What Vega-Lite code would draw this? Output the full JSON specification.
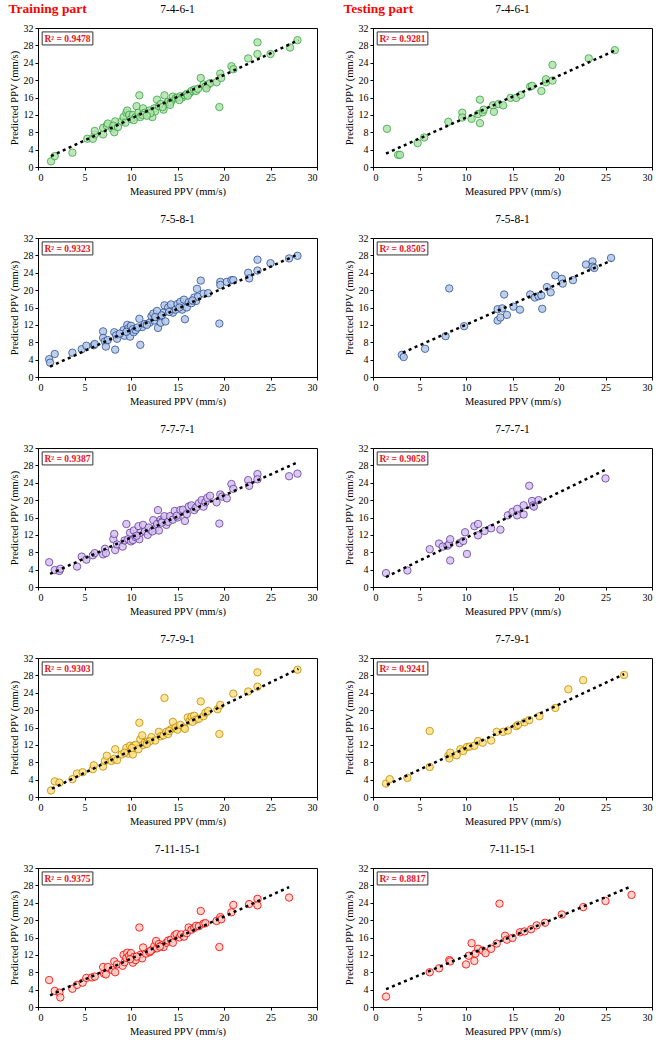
{
  "$schema": "https://vega.github.io/schema/vega-lite/v6.json",
  "padding": {"left": 8, "top": 1, "right": 2, "bottom": 2},
  "spacing": 25,
  "datasets": {
    "train": [
      {"m":"7-4-6-1","k":"r","t":"R² = 0.9478"},
      {"m":"7-4-6-1","k":"f","x":1.4,"y":2.5},{"m":"7-4-6-1","k":"f","x":28,"y":29.2},
      {"m":"7-4-6-1","k":"p","x":1.4,"y":1.3},{"m":"7-4-6-1","k":"p","x":1.8,"y":2.5},{"m":"7-4-6-1","k":"p","x":3.7,"y":3.3},{"m":"7-4-6-1","k":"p","x":5.3,"y":6.5},{"m":"7-4-6-1","k":"p","x":5.9,"y":6.5},{"m":"7-4-6-1","k":"p","x":6.1,"y":7.5},{"m":"7-4-6-1","k":"p","x":6.1,"y":8.3},{"m":"7-4-6-1","k":"p","x":7,"y":7.5},{"m":"7-4-6-1","k":"p","x":7,"y":9},{"m":"7-4-6-1","k":"p","x":7.4,"y":9.5},{"m":"7-4-6-1","k":"p","x":7.5,"y":10},{"m":"7-4-6-1","k":"p","x":8,"y":8.8},{"m":"7-4-6-1","k":"p","x":8.2,"y":8},{"m":"7-4-6-1","k":"p","x":8.3,"y":10.5},{"m":"7-4-6-1","k":"p","x":8.1,"y":9.5},{"m":"7-4-6-1","k":"p","x":9,"y":10.5},{"m":"7-4-6-1","k":"p","x":9.2,"y":11.5},{"m":"7-4-6-1","k":"p","x":9.5,"y":12.5},{"m":"7-4-6-1","k":"p","x":9.6,"y":13},{"m":"7-4-6-1","k":"p","x":9.8,"y":12},{"m":"7-4-6-1","k":"p","x":10,"y":11},{"m":"7-4-6-1","k":"p","x":10.2,"y":12},{"m":"7-4-6-1","k":"p","x":10.5,"y":11.5},{"m":"7-4-6-1","k":"p","x":10.6,"y":14},{"m":"7-4-6-1","k":"p","x":10.8,"y":12.5},{"m":"7-4-6-1","k":"p","x":10.9,"y":16.5},{"m":"7-4-6-1","k":"p","x":11,"y":11.5},{"m":"7-4-6-1","k":"p","x":11.3,"y":13.5},{"m":"7-4-6-1","k":"p","x":11.5,"y":12.5},{"m":"7-4-6-1","k":"p","x":11.8,"y":12.3},{"m":"7-4-6-1","k":"p","x":12,"y":13},{"m":"7-4-6-1","k":"p","x":12.3,"y":11.5},{"m":"7-4-6-1","k":"p","x":12.5,"y":13.5},{"m":"7-4-6-1","k":"p","x":12.8,"y":15.5},{"m":"7-4-6-1","k":"p","x":12.6,"y":12.8},{"m":"7-4-6-1","k":"p","x":13,"y":14},{"m":"7-4-6-1","k":"p","x":13.2,"y":14.5},{"m":"7-4-6-1","k":"p","x":13.5,"y":13.2},{"m":"7-4-6-1","k":"p","x":13.6,"y":16.5},{"m":"7-4-6-1","k":"p","x":13.8,"y":14.5},{"m":"7-4-6-1","k":"p","x":14,"y":15},{"m":"7-4-6-1","k":"p","x":14.3,"y":15},{"m":"7-4-6-1","k":"p","x":14.5,"y":16.2},{"m":"7-4-6-1","k":"p","x":14.8,"y":15.8},{"m":"7-4-6-1","k":"p","x":15,"y":16},{"m":"7-4-6-1","k":"p","x":15.3,"y":16.3},{"m":"7-4-6-1","k":"p","x":15.5,"y":16},{"m":"7-4-6-1","k":"p","x":15.8,"y":16.5},{"m":"7-4-6-1","k":"p","x":16,"y":16.8},{"m":"7-4-6-1","k":"p","x":16.3,"y":17},{"m":"7-4-6-1","k":"p","x":16.5,"y":17.5},{"m":"7-4-6-1","k":"p","x":16.8,"y":17.8},{"m":"7-4-6-1","k":"p","x":17,"y":17.5},{"m":"7-4-6-1","k":"p","x":17.2,"y":18},{"m":"7-4-6-1","k":"p","x":17.5,"y":20.5},{"m":"7-4-6-1","k":"p","x":17.8,"y":19},{"m":"7-4-6-1","k":"p","x":18,"y":18.5},{"m":"7-4-6-1","k":"p","x":18.3,"y":19},{"m":"7-4-6-1","k":"p","x":18.5,"y":19.3},{"m":"7-4-6-1","k":"p","x":19.2,"y":19.5},{"m":"7-4-6-1","k":"p","x":19.5,"y":13.8},{"m":"7-4-6-1","k":"p","x":19.6,"y":21.5},{"m":"7-4-6-1","k":"p","x":19.7,"y":20.5},{"m":"7-4-6-1","k":"p","x":20.8,"y":23.2},{"m":"7-4-6-1","k":"p","x":21,"y":22.5},{"m":"7-4-6-1","k":"p","x":22.6,"y":25},{"m":"7-4-6-1","k":"p","x":23.6,"y":28.7},{"m":"7-4-6-1","k":"p","x":23.6,"y":26},{"m":"7-4-6-1","k":"p","x":25,"y":26},{"m":"7-4-6-1","k":"p","x":27.1,"y":27.5},{"m":"7-4-6-1","k":"p","x":27.9,"y":29.2},{"m":"7-4-6-1","k":"p","x":10.3,"y":10.8},{"m":"7-4-6-1","k":"p","x":11.2,"y":12},{"m":"7-4-6-1","k":"p","x":9.4,"y":10.2},{"m":"7-4-6-1","k":"p","x":12.1,"y":12.4},{"m":"7-4-6-1","k":"p","x":14.2,"y":14.3},{"m":"7-4-6-1","k":"p","x":15.2,"y":15.4},{"m":"7-4-6-1","k":"p","x":16.1,"y":16.4},{"m":"7-4-6-1","k":"p","x":8.6,"y":9.2},{"m":"7-4-6-1","k":"p","x":18.1,"y":18.1},{"m":"7-4-6-1","k":"p","x":13.4,"y":13.8},{"m":"7-4-6-1","k":"p","x":11.7,"y":11.8},

      {"m":"7-5-8-1","k":"r","t":"R² = 0.9323"},
      {"m":"7-5-8-1","k":"f","x":1.3,"y":2.4},{"m":"7-5-8-1","k":"f","x":28,"y":28.3},
      {"m":"7-5-8-1","k":"p","x":1.2,"y":4.1},{"m":"7-5-8-1","k":"p","x":1.3,"y":3.3},{"m":"7-5-8-1","k":"p","x":1.8,"y":5.3},{"m":"7-5-8-1","k":"p","x":3.7,"y":5.6},{"m":"7-5-8-1","k":"p","x":4.7,"y":6.4},{"m":"7-5-8-1","k":"p","x":5.2,"y":7.2},{"m":"7-5-8-1","k":"p","x":6,"y":7.3},{"m":"7-5-8-1","k":"p","x":6.1,"y":7.6},{"m":"7-5-8-1","k":"p","x":7,"y":10.5},{"m":"7-5-8-1","k":"p","x":7,"y":9},{"m":"7-5-8-1","k":"p","x":7.2,"y":8.2},{"m":"7-5-8-1","k":"p","x":7.3,"y":7},{"m":"7-5-8-1","k":"p","x":7.5,"y":8.5},{"m":"7-5-8-1","k":"p","x":8.2,"y":10.3},{"m":"7-5-8-1","k":"p","x":8.3,"y":6.3},{"m":"7-5-8-1","k":"p","x":8.4,"y":9.6},{"m":"7-5-8-1","k":"p","x":8.5,"y":8.8},{"m":"7-5-8-1","k":"p","x":9.2,"y":10.8},{"m":"7-5-8-1","k":"p","x":9.3,"y":9.5},{"m":"7-5-8-1","k":"p","x":9.6,"y":12},{"m":"7-5-8-1","k":"p","x":9.7,"y":11.2},{"m":"7-5-8-1","k":"p","x":9.9,"y":9.3},{"m":"7-5-8-1","k":"p","x":10,"y":11.8},{"m":"7-5-8-1","k":"p","x":10.2,"y":11},{"m":"7-5-8-1","k":"p","x":10.3,"y":10.3},{"m":"7-5-8-1","k":"p","x":10.5,"y":10.8},{"m":"7-5-8-1","k":"p","x":10.9,"y":13.4},{"m":"7-5-8-1","k":"p","x":11,"y":7.4},{"m":"7-5-8-1","k":"p","x":11.2,"y":11.5},{"m":"7-5-8-1","k":"p","x":11.5,"y":12.2},{"m":"7-5-8-1","k":"p","x":12,"y":12.5},{"m":"7-5-8-1","k":"p","x":12.2,"y":14},{"m":"7-5-8-1","k":"p","x":12.4,"y":14.6},{"m":"7-5-8-1","k":"p","x":12.5,"y":13},{"m":"7-5-8-1","k":"p","x":12.8,"y":15.2},{"m":"7-5-8-1","k":"p","x":12.9,"y":11.3},{"m":"7-5-8-1","k":"p","x":13,"y":13.7},{"m":"7-5-8-1","k":"p","x":13.2,"y":12.5},{"m":"7-5-8-1","k":"p","x":13.5,"y":14.8},{"m":"7-5-8-1","k":"p","x":13.6,"y":16.5},{"m":"7-5-8-1","k":"p","x":13.7,"y":12.8},{"m":"7-5-8-1","k":"p","x":14,"y":16},{"m":"7-5-8-1","k":"p","x":14.3,"y":16.7},{"m":"7-5-8-1","k":"p","x":14.5,"y":14.8},{"m":"7-5-8-1","k":"p","x":14.8,"y":15.5},{"m":"7-5-8-1","k":"p","x":15,"y":16.8},{"m":"7-5-8-1","k":"p","x":15.3,"y":17.3},{"m":"7-5-8-1","k":"p","x":15.5,"y":15.5},{"m":"7-5-8-1","k":"p","x":15.7,"y":17.8},{"m":"7-5-8-1","k":"p","x":15.8,"y":13.3},{"m":"7-5-8-1","k":"p","x":16,"y":16},{"m":"7-5-8-1","k":"p","x":16.2,"y":17.2},{"m":"7-5-8-1","k":"p","x":16.5,"y":17},{"m":"7-5-8-1","k":"p","x":16.8,"y":18.3},{"m":"7-5-8-1","k":"p","x":17,"y":17.5},{"m":"7-5-8-1","k":"p","x":17.1,"y":20.3},{"m":"7-5-8-1","k":"p","x":17.2,"y":18.5},{"m":"7-5-8-1","k":"p","x":17.5,"y":22.2},{"m":"7-5-8-1","k":"p","x":17.8,"y":19.2},{"m":"7-5-8-1","k":"p","x":18.3,"y":19.3},{"m":"7-5-8-1","k":"p","x":19.5,"y":12.3},{"m":"7-5-8-1","k":"p","x":19.6,"y":21.9},{"m":"7-5-8-1","k":"p","x":19.6,"y":21.2},{"m":"7-5-8-1","k":"p","x":20.3,"y":21.9},{"m":"7-5-8-1","k":"p","x":20.8,"y":22.3},{"m":"7-5-8-1","k":"p","x":21,"y":22.3},{"m":"7-5-8-1","k":"p","x":22.6,"y":24},{"m":"7-5-8-1","k":"p","x":22.7,"y":22.7},{"m":"7-5-8-1","k":"p","x":23.6,"y":27},{"m":"7-5-8-1","k":"p","x":23.6,"y":24.5},{"m":"7-5-8-1","k":"p","x":25,"y":26.2},{"m":"7-5-8-1","k":"p","x":27,"y":27.3},{"m":"7-5-8-1","k":"p","x":27.9,"y":27.9},{"m":"7-5-8-1","k":"p","x":11.7,"y":12},{"m":"7-5-8-1","k":"p","x":12.6,"y":13.8},{"m":"7-5-8-1","k":"p","x":13.3,"y":14.2},{"m":"7-5-8-1","k":"p","x":14.1,"y":15},{"m":"7-5-8-1","k":"p","x":15.2,"y":16},{"m":"7-5-8-1","k":"p","x":16.6,"y":17.6},{"m":"7-5-8-1","k":"p","x":9.5,"y":10.4},{"m":"7-5-8-1","k":"p","x":8.8,"y":10},{"m":"7-5-8-1","k":"p","x":10.7,"y":11.4},

      {"m":"7-7-7-1","k":"r","t":"R² = 0.9387"},
      {"m":"7-7-7-1","k":"f","x":1.3,"y":3.0},{"m":"7-7-7-1","k":"f","x":28,"y":28.8},
      {"m":"7-7-7-1","k":"p","x":1.2,"y":5.7},{"m":"7-7-7-1","k":"p","x":1.8,"y":3.9},{"m":"7-7-7-1","k":"p","x":2.3,"y":3.7},{"m":"7-7-7-1","k":"p","x":2.4,"y":4.2},{"m":"7-7-7-1","k":"p","x":4.2,"y":4.7},{"m":"7-7-7-1","k":"p","x":4.7,"y":7},{"m":"7-7-7-1","k":"p","x":5.2,"y":6.3},{"m":"7-7-7-1","k":"p","x":5.9,"y":7.3},{"m":"7-7-7-1","k":"p","x":6.1,"y":7.8},{"m":"7-7-7-1","k":"p","x":7,"y":7.5},{"m":"7-7-7-1","k":"p","x":7.2,"y":8.8},{"m":"7-7-7-1","k":"p","x":7.3,"y":7.8},{"m":"7-7-7-1","k":"p","x":8.1,"y":11},{"m":"7-7-7-1","k":"p","x":8.2,"y":12.2},{"m":"7-7-7-1","k":"p","x":8.3,"y":8.5},{"m":"7-7-7-1","k":"p","x":8.5,"y":9.8},{"m":"7-7-7-1","k":"p","x":9.1,"y":9.3},{"m":"7-7-7-1","k":"p","x":9.3,"y":10.7},{"m":"7-7-7-1","k":"p","x":9.5,"y":14.5},{"m":"7-7-7-1","k":"p","x":9.7,"y":11},{"m":"7-7-7-1","k":"p","x":9.9,"y":12.5},{"m":"7-7-7-1","k":"p","x":10,"y":10.5},{"m":"7-7-7-1","k":"p","x":10.2,"y":10.8},{"m":"7-7-7-1","k":"p","x":10.3,"y":13},{"m":"7-7-7-1","k":"p","x":10.5,"y":11.5},{"m":"7-7-7-1","k":"p","x":10.8,"y":14},{"m":"7-7-7-1","k":"p","x":10.9,"y":11},{"m":"7-7-7-1","k":"p","x":11,"y":12.5},{"m":"7-7-7-1","k":"p","x":11.3,"y":14.3},{"m":"7-7-7-1","k":"p","x":11.5,"y":12.8},{"m":"7-7-7-1","k":"p","x":11.8,"y":12},{"m":"7-7-7-1","k":"p","x":12.1,"y":13.2},{"m":"7-7-7-1","k":"p","x":12.4,"y":15.4},{"m":"7-7-7-1","k":"p","x":12.6,"y":13.5},{"m":"7-7-7-1","k":"p","x":12.8,"y":14.5},{"m":"7-7-7-1","k":"p","x":12.9,"y":17.7},{"m":"7-7-7-1","k":"p","x":13,"y":13},{"m":"7-7-7-1","k":"p","x":13.2,"y":15.5},{"m":"7-7-7-1","k":"p","x":13.4,"y":15.2},{"m":"7-7-7-1","k":"p","x":13.6,"y":16.3},{"m":"7-7-7-1","k":"p","x":13.8,"y":14.3},{"m":"7-7-7-1","k":"p","x":14,"y":15},{"m":"7-7-7-1","k":"p","x":14.2,"y":16.3},{"m":"7-7-7-1","k":"p","x":14.5,"y":15.5},{"m":"7-7-7-1","k":"p","x":14.7,"y":17.5},{"m":"7-7-7-1","k":"p","x":15,"y":16},{"m":"7-7-7-1","k":"p","x":15.3,"y":17.7},{"m":"7-7-7-1","k":"p","x":15.6,"y":17.8},{"m":"7-7-7-1","k":"p","x":15.8,"y":15.2},{"m":"7-7-7-1","k":"p","x":16,"y":16.8},{"m":"7-7-7-1","k":"p","x":16.2,"y":18.5},{"m":"7-7-7-1","k":"p","x":16.5,"y":18.8},{"m":"7-7-7-1","k":"p","x":16.8,"y":17.7},{"m":"7-7-7-1","k":"p","x":17,"y":18.3},{"m":"7-7-7-1","k":"p","x":17.3,"y":19.3},{"m":"7-7-7-1","k":"p","x":17.6,"y":20},{"m":"7-7-7-1","k":"p","x":17.8,"y":18.5},{"m":"7-7-7-1","k":"p","x":18,"y":19.5},{"m":"7-7-7-1","k":"p","x":18.2,"y":20.5},{"m":"7-7-7-1","k":"p","x":18.5,"y":21},{"m":"7-7-7-1","k":"p","x":19.2,"y":19.5},{"m":"7-7-7-1","k":"p","x":19.5,"y":14.6},{"m":"7-7-7-1","k":"p","x":19.6,"y":21.3},{"m":"7-7-7-1","k":"p","x":19.8,"y":20.8},{"m":"7-7-7-1","k":"p","x":20.3,"y":20.4},{"m":"7-7-7-1","k":"p","x":20.8,"y":23.7},{"m":"7-7-7-1","k":"p","x":21,"y":22.6},{"m":"7-7-7-1","k":"p","x":22.6,"y":24.6},{"m":"7-7-7-1","k":"p","x":22.7,"y":23.3},{"m":"7-7-7-1","k":"p","x":23.6,"y":26},{"m":"7-7-7-1","k":"p","x":23.6,"y":24.8},{"m":"7-7-7-1","k":"p","x":27,"y":25.5},{"m":"7-7-7-1","k":"p","x":27.9,"y":26.1},{"m":"7-7-7-1","k":"p","x":10.6,"y":11.8},{"m":"7-7-7-1","k":"p","x":11.9,"y":13.7},{"m":"7-7-7-1","k":"p","x":13.3,"y":14.8},{"m":"7-7-7-1","k":"p","x":12.3,"y":12.8},{"m":"7-7-7-1","k":"p","x":14.9,"y":16.4},

      {"m":"7-7-9-1","k":"r","t":"R² = 0.9303"},
      {"m":"7-7-9-1","k":"f","x":1.5,"y":1.9},{"m":"7-7-9-1","k":"f","x":28,"y":29.5},
      {"m":"7-7-9-1","k":"p","x":1.4,"y":1.5},{"m":"7-7-9-1","k":"p","x":1.8,"y":3.6},{"m":"7-7-9-1","k":"p","x":2.3,"y":3.3},{"m":"7-7-9-1","k":"p","x":3.7,"y":4.1},{"m":"7-7-9-1","k":"p","x":4.2,"y":5.4},{"m":"7-7-9-1","k":"p","x":4.8,"y":5.7},{"m":"7-7-9-1","k":"p","x":5.9,"y":6.4},{"m":"7-7-9-1","k":"p","x":6,"y":7.3},{"m":"7-7-9-1","k":"p","x":7,"y":7},{"m":"7-7-9-1","k":"p","x":7.2,"y":8.3},{"m":"7-7-9-1","k":"p","x":7.4,"y":9.5},{"m":"7-7-9-1","k":"p","x":7.9,"y":8.3},{"m":"7-7-9-1","k":"p","x":8.2,"y":8.8},{"m":"7-7-9-1","k":"p","x":8.3,"y":11},{"m":"7-7-9-1","k":"p","x":8.5,"y":8.5},{"m":"7-7-9-1","k":"p","x":9,"y":9.8},{"m":"7-7-9-1","k":"p","x":9.5,"y":11.3},{"m":"7-7-9-1","k":"p","x":9.7,"y":10},{"m":"7-7-9-1","k":"p","x":9.9,"y":11.8},{"m":"7-7-9-1","k":"p","x":10,"y":10.5},{"m":"7-7-9-1","k":"p","x":10.2,"y":9.8},{"m":"7-7-9-1","k":"p","x":10.3,"y":11.8},{"m":"7-7-9-1","k":"p","x":10.5,"y":12},{"m":"7-7-9-1","k":"p","x":10.8,"y":11},{"m":"7-7-9-1","k":"p","x":10.9,"y":17.1},{"m":"7-7-9-1","k":"p","x":11,"y":13.3},{"m":"7-7-9-1","k":"p","x":11.2,"y":14.2},{"m":"7-7-9-1","k":"p","x":11.3,"y":12},{"m":"7-7-9-1","k":"p","x":11.5,"y":12.5},{"m":"7-7-9-1","k":"p","x":11.8,"y":12.8},{"m":"7-7-9-1","k":"p","x":12.2,"y":13.8},{"m":"7-7-9-1","k":"p","x":12.6,"y":13},{"m":"7-7-9-1","k":"p","x":13,"y":15},{"m":"7-7-9-1","k":"p","x":13.2,"y":14},{"m":"7-7-9-1","k":"p","x":13.5,"y":14.2},{"m":"7-7-9-1","k":"p","x":13.6,"y":22.8},{"m":"7-7-9-1","k":"p","x":13.8,"y":15},{"m":"7-7-9-1","k":"p","x":14,"y":14.5},{"m":"7-7-9-1","k":"p","x":14.3,"y":15.6},{"m":"7-7-9-1","k":"p","x":14.5,"y":17.3},{"m":"7-7-9-1","k":"p","x":14.8,"y":16},{"m":"7-7-9-1","k":"p","x":15,"y":15.5},{"m":"7-7-9-1","k":"p","x":15.3,"y":16.6},{"m":"7-7-9-1","k":"p","x":15.7,"y":16},{"m":"7-7-9-1","k":"p","x":15.8,"y":15.7},{"m":"7-7-9-1","k":"p","x":16.1,"y":18.3},{"m":"7-7-9-1","k":"p","x":16.3,"y":17.5},{"m":"7-7-9-1","k":"p","x":16.5,"y":18.5},{"m":"7-7-9-1","k":"p","x":16.8,"y":18.7},{"m":"7-7-9-1","k":"p","x":17,"y":17.8},{"m":"7-7-9-1","k":"p","x":17.3,"y":18},{"m":"7-7-9-1","k":"p","x":17.5,"y":22},{"m":"7-7-9-1","k":"p","x":17.8,"y":18.6},{"m":"7-7-9-1","k":"p","x":18,"y":19.4},{"m":"7-7-9-1","k":"p","x":18.3,"y":19.8},{"m":"7-7-9-1","k":"p","x":19.3,"y":20.2},{"m":"7-7-9-1","k":"p","x":19.5,"y":14.5},{"m":"7-7-9-1","k":"p","x":19.6,"y":21.2},{"m":"7-7-9-1","k":"p","x":21,"y":23.8},{"m":"7-7-9-1","k":"p","x":22.6,"y":24.3},{"m":"7-7-9-1","k":"p","x":23.6,"y":28.7},{"m":"7-7-9-1","k":"p","x":23.6,"y":25.4},{"m":"7-7-9-1","k":"p","x":27.9,"y":29.3},{"m":"7-7-9-1","k":"p","x":10.1,"y":11.3},{"m":"7-7-9-1","k":"p","x":12,"y":12.8},{"m":"7-7-9-1","k":"p","x":14.1,"y":15.2},{"m":"7-7-9-1","k":"p","x":9.3,"y":10.2},{"m":"7-7-9-1","k":"p","x":16.6,"y":17.3},{"m":"7-7-9-1","k":"p","x":11.7,"y":12.2},

      {"m":"7-11-15-1","k":"r","t":"R² = 0.9375"},
      {"m":"7-11-15-1","k":"f","x":1.3,"y":2.7},{"m":"7-11-15-1","k":"f","x":27,"y":27.6},
      {"m":"7-11-15-1","k":"p","x":1.2,"y":6.2},{"m":"7-11-15-1","k":"p","x":1.8,"y":3.7},{"m":"7-11-15-1","k":"p","x":2.3,"y":3.3},{"m":"7-11-15-1","k":"p","x":2.4,"y":2.2},{"m":"7-11-15-1","k":"p","x":3.7,"y":4.2},{"m":"7-11-15-1","k":"p","x":4.2,"y":5.1},{"m":"7-11-15-1","k":"p","x":4.8,"y":5.6},{"m":"7-11-15-1","k":"p","x":5.2,"y":6.7},{"m":"7-11-15-1","k":"p","x":5.8,"y":6.8},{"m":"7-11-15-1","k":"p","x":6.1,"y":7},{"m":"7-11-15-1","k":"p","x":7,"y":9.2},{"m":"7-11-15-1","k":"p","x":7.1,"y":7.7},{"m":"7-11-15-1","k":"p","x":7.3,"y":7.5},{"m":"7-11-15-1","k":"p","x":7.5,"y":9.2},{"m":"7-11-15-1","k":"p","x":8,"y":8.5},{"m":"7-11-15-1","k":"p","x":8.2,"y":10.5},{"m":"7-11-15-1","k":"p","x":8.3,"y":8},{"m":"7-11-15-1","k":"p","x":8.5,"y":9.8},{"m":"7-11-15-1","k":"p","x":9.1,"y":9.5},{"m":"7-11-15-1","k":"p","x":9.2,"y":12},{"m":"7-11-15-1","k":"p","x":9.3,"y":10.3},{"m":"7-11-15-1","k":"p","x":9.5,"y":11.3},{"m":"7-11-15-1","k":"p","x":9.6,"y":12.5},{"m":"7-11-15-1","k":"p","x":9.8,"y":11.8},{"m":"7-11-15-1","k":"p","x":10,"y":12.4},{"m":"7-11-15-1","k":"p","x":10.2,"y":10.2},{"m":"7-11-15-1","k":"p","x":10.3,"y":11.5},{"m":"7-11-15-1","k":"p","x":10.5,"y":10.8},{"m":"7-11-15-1","k":"p","x":10.9,"y":18.3},{"m":"7-11-15-1","k":"p","x":11,"y":12},{"m":"7-11-15-1","k":"p","x":11.2,"y":11.2},{"m":"7-11-15-1","k":"p","x":11.3,"y":13.7},{"m":"7-11-15-1","k":"p","x":11.6,"y":12.3},{"m":"7-11-15-1","k":"p","x":12,"y":12.6},{"m":"7-11-15-1","k":"p","x":12.3,"y":13.2},{"m":"7-11-15-1","k":"p","x":12.5,"y":14},{"m":"7-11-15-1","k":"p","x":12.7,"y":15.2},{"m":"7-11-15-1","k":"p","x":12.8,"y":13.5},{"m":"7-11-15-1","k":"p","x":13,"y":14.5},{"m":"7-11-15-1","k":"p","x":13.3,"y":14.2},{"m":"7-11-15-1","k":"p","x":13.5,"y":13.8},{"m":"7-11-15-1","k":"p","x":13.8,"y":14.8},{"m":"7-11-15-1","k":"p","x":14,"y":15.3},{"m":"7-11-15-1","k":"p","x":14.3,"y":15.5},{"m":"7-11-15-1","k":"p","x":14.5,"y":14.8},{"m":"7-11-15-1","k":"p","x":14.7,"y":16.5},{"m":"7-11-15-1","k":"p","x":14.9,"y":16.8},{"m":"7-11-15-1","k":"p","x":15.2,"y":16},{"m":"7-11-15-1","k":"p","x":15.4,"y":16.7},{"m":"7-11-15-1","k":"p","x":15.7,"y":16.2},{"m":"7-11-15-1","k":"p","x":16,"y":17},{"m":"7-11-15-1","k":"p","x":16.2,"y":18.3},{"m":"7-11-15-1","k":"p","x":16.5,"y":17.8},{"m":"7-11-15-1","k":"p","x":16.8,"y":18.2},{"m":"7-11-15-1","k":"p","x":17,"y":18.7},{"m":"7-11-15-1","k":"p","x":17.3,"y":18.6},{"m":"7-11-15-1","k":"p","x":17.5,"y":22.1},{"m":"7-11-15-1","k":"p","x":17.8,"y":19.2},{"m":"7-11-15-1","k":"p","x":18,"y":19.3},{"m":"7-11-15-1","k":"p","x":19.2,"y":19.8},{"m":"7-11-15-1","k":"p","x":19.5,"y":13.8},{"m":"7-11-15-1","k":"p","x":19.6,"y":20.7},{"m":"7-11-15-1","k":"p","x":19.7,"y":20.2},{"m":"7-11-15-1","k":"p","x":20.8,"y":21.8},{"m":"7-11-15-1","k":"p","x":21,"y":23.5},{"m":"7-11-15-1","k":"p","x":22.7,"y":23.7},{"m":"7-11-15-1","k":"p","x":23.6,"y":24.9},{"m":"7-11-15-1","k":"p","x":23.6,"y":23.4},{"m":"7-11-15-1","k":"p","x":27,"y":25.2},{"m":"7-11-15-1","k":"p","x":10.6,"y":11.6},{"m":"7-11-15-1","k":"p","x":12.1,"y":12.9},{"m":"7-11-15-1","k":"p","x":9.9,"y":11},{"m":"7-11-15-1","k":"p","x":13.1,"y":13.9}
    ],
    "test": [
      {"m":"7-4-6-1","k":"r","t":"R² = 0.9281"},
      {"m":"7-4-6-1","k":"f","x":1.4,"y":3.1},{"m":"7-4-6-1","k":"f","x":26,"y":26.8},
      {"m":"7-4-6-1","k":"p","x":1.5,"y":8.8},{"m":"7-4-6-1","k":"p","x":2.7,"y":2.8},{"m":"7-4-6-1","k":"p","x":2.9,"y":2.8},{"m":"7-4-6-1","k":"p","x":4.8,"y":5.5},{"m":"7-4-6-1","k":"p","x":5.5,"y":6.8},{"m":"7-4-6-1","k":"p","x":8.1,"y":10.4},{"m":"7-4-6-1","k":"p","x":9.6,"y":12.5},{"m":"7-4-6-1","k":"p","x":9.6,"y":11.4},{"m":"7-4-6-1","k":"p","x":10.6,"y":11.1},{"m":"7-4-6-1","k":"p","x":11.3,"y":12.2},{"m":"7-4-6-1","k":"p","x":11.5,"y":15.5},{"m":"7-4-6-1","k":"p","x":11.5,"y":10.1},{"m":"7-4-6-1","k":"p","x":11.8,"y":12.6},{"m":"7-4-6-1","k":"p","x":11.9,"y":13.2},{"m":"7-4-6-1","k":"p","x":12.9,"y":14.2},{"m":"7-4-6-1","k":"p","x":13,"y":12.7},{"m":"7-4-6-1","k":"p","x":13.5,"y":14.5},{"m":"7-4-6-1","k":"p","x":14,"y":14.2},{"m":"7-4-6-1","k":"p","x":14.8,"y":15.9},{"m":"7-4-6-1","k":"p","x":15.4,"y":15.9},{"m":"7-4-6-1","k":"p","x":15.9,"y":16.6},{"m":"7-4-6-1","k":"p","x":16.9,"y":18.5},{"m":"7-4-6-1","k":"p","x":17.1,"y":18.7},{"m":"7-4-6-1","k":"p","x":18.1,"y":17.5},{"m":"7-4-6-1","k":"p","x":18.6,"y":19.5},{"m":"7-4-6-1","k":"p","x":18.6,"y":20.2},{"m":"7-4-6-1","k":"p","x":19.3,"y":23.5},{"m":"7-4-6-1","k":"p","x":19.3,"y":19.9},{"m":"7-4-6-1","k":"p","x":23.2,"y":25},{"m":"7-4-6-1","k":"p","x":26,"y":26.9},

      {"m":"7-5-8-1","k":"r","t":"R² = 0.8505"},
      {"m":"7-5-8-1","k":"f","x":3.2,"y":5.6},{"m":"7-5-8-1","k":"f","x":25.6,"y":26.8},
      {"m":"7-5-8-1","k":"p","x":3.1,"y":5.1},{"m":"7-5-8-1","k":"p","x":3.3,"y":4.6},{"m":"7-5-8-1","k":"p","x":5.6,"y":6.5},{"m":"7-5-8-1","k":"p","x":7.8,"y":9.4},{"m":"7-5-8-1","k":"p","x":8.2,"y":20.4},{"m":"7-5-8-1","k":"p","x":9.8,"y":11.7},{"m":"7-5-8-1","k":"p","x":13.4,"y":13},{"m":"7-5-8-1","k":"p","x":13.4,"y":15.6},{"m":"7-5-8-1","k":"p","x":13.7,"y":13.7},{"m":"7-5-8-1","k":"p","x":13.9,"y":15.8},{"m":"7-5-8-1","k":"p","x":14.1,"y":19},{"m":"7-5-8-1","k":"p","x":14.4,"y":14.3},{"m":"7-5-8-1","k":"p","x":15.1,"y":16.2},{"m":"7-5-8-1","k":"p","x":15.8,"y":15.5},{"m":"7-5-8-1","k":"p","x":16.9,"y":19},{"m":"7-5-8-1","k":"p","x":17.4,"y":18.3},{"m":"7-5-8-1","k":"p","x":17.8,"y":18.6},{"m":"7-5-8-1","k":"p","x":18.1,"y":18.8},{"m":"7-5-8-1","k":"p","x":18.2,"y":15.7},{"m":"7-5-8-1","k":"p","x":18.7,"y":20.7},{"m":"7-5-8-1","k":"p","x":19.1,"y":19.5},{"m":"7-5-8-1","k":"p","x":19.6,"y":23.4},{"m":"7-5-8-1","k":"p","x":20.3,"y":22.6},{"m":"7-5-8-1","k":"p","x":20.4,"y":21.5},{"m":"7-5-8-1","k":"p","x":21.5,"y":22.3},{"m":"7-5-8-1","k":"p","x":22.9,"y":25.9},{"m":"7-5-8-1","k":"p","x":23.6,"y":26.6},{"m":"7-5-8-1","k":"p","x":23.6,"y":25.4},{"m":"7-5-8-1","k":"p","x":23.8,"y":25.1},{"m":"7-5-8-1","k":"p","x":25.6,"y":27.4},

      {"m":"7-7-7-1","k":"r","t":"R² = 0.9058"},
      {"m":"7-7-7-1","k":"f","x":1.4,"y":2.3},{"m":"7-7-7-1","k":"f","x":25,"y":27},
      {"m":"7-7-7-1","k":"p","x":1.4,"y":3.2},{"m":"7-7-7-1","k":"p","x":3.7,"y":3.8},{"m":"7-7-7-1","k":"p","x":6.1,"y":8.7},{"m":"7-7-7-1","k":"p","x":7.1,"y":10},{"m":"7-7-7-1","k":"p","x":7.5,"y":9.3},{"m":"7-7-7-1","k":"p","x":8,"y":9.5},{"m":"7-7-7-1","k":"p","x":8.2,"y":9.9},{"m":"7-7-7-1","k":"p","x":8.3,"y":11},{"m":"7-7-7-1","k":"p","x":8.3,"y":6.1},{"m":"7-7-7-1","k":"p","x":9.3,"y":10.1},{"m":"7-7-7-1","k":"p","x":9.7,"y":10.6},{"m":"7-7-7-1","k":"p","x":9.9,"y":12.6},{"m":"7-7-7-1","k":"p","x":10.1,"y":7.6},{"m":"7-7-7-1","k":"p","x":10.9,"y":14},{"m":"7-7-7-1","k":"p","x":11.3,"y":14.5},{"m":"7-7-7-1","k":"p","x":11.3,"y":11.9},{"m":"7-7-7-1","k":"p","x":12,"y":12.9},{"m":"7-7-7-1","k":"p","x":12.7,"y":13.5},{"m":"7-7-7-1","k":"p","x":13.7,"y":13.2},{"m":"7-7-7-1","k":"p","x":14.5,"y":16.5},{"m":"7-7-7-1","k":"p","x":15,"y":17.3},{"m":"7-7-7-1","k":"p","x":15.5,"y":18},{"m":"7-7-7-1","k":"p","x":15.5,"y":16.5},{"m":"7-7-7-1","k":"p","x":16.2,"y":18.8},{"m":"7-7-7-1","k":"p","x":16.2,"y":16.7},{"m":"7-7-7-1","k":"p","x":16.8,"y":23.3},{"m":"7-7-7-1","k":"p","x":17.1,"y":19.8},{"m":"7-7-7-1","k":"p","x":17.2,"y":18.8},{"m":"7-7-7-1","k":"p","x":17.3,"y":18.5},{"m":"7-7-7-1","k":"p","x":17.8,"y":20},{"m":"7-7-7-1","k":"p","x":25,"y":25},

      {"m":"7-7-9-1","k":"r","t":"R² = 0.9241"},
      {"m":"7-7-9-1","k":"f","x":1.5,"y":2.8},{"m":"7-7-9-1","k":"f","x":27,"y":28.3},
      {"m":"7-7-9-1","k":"p","x":1.4,"y":3.1},{"m":"7-7-9-1","k":"p","x":1.8,"y":4.1},{"m":"7-7-9-1","k":"p","x":3.7,"y":4.4},{"m":"7-7-9-1","k":"p","x":6.1,"y":15.2},{"m":"7-7-9-1","k":"p","x":6.1,"y":6.9},{"m":"7-7-9-1","k":"p","x":8.1,"y":9.5},{"m":"7-7-9-1","k":"p","x":8.2,"y":8.9},{"m":"7-7-9-1","k":"p","x":8.3,"y":10.2},{"m":"7-7-9-1","k":"p","x":9,"y":9.6},{"m":"7-7-9-1","k":"p","x":9.4,"y":11},{"m":"7-7-9-1","k":"p","x":9.7,"y":10.6},{"m":"7-7-9-1","k":"p","x":10.1,"y":11.5},{"m":"7-7-9-1","k":"p","x":10.4,"y":11.6},{"m":"7-7-9-1","k":"p","x":10.9,"y":11.8},{"m":"7-7-9-1","k":"p","x":11.3,"y":12.9},{"m":"7-7-9-1","k":"p","x":11.8,"y":12.5},{"m":"7-7-9-1","k":"p","x":12.7,"y":13},{"m":"7-7-9-1","k":"p","x":13.3,"y":15},{"m":"7-7-9-1","k":"p","x":14,"y":15},{"m":"7-7-9-1","k":"p","x":14.5,"y":15.3},{"m":"7-7-9-1","k":"p","x":15.4,"y":16.3},{"m":"7-7-9-1","k":"p","x":15.6,"y":16.6},{"m":"7-7-9-1","k":"p","x":16.3,"y":17.2},{"m":"7-7-9-1","k":"p","x":16.8,"y":17.7},{"m":"7-7-9-1","k":"p","x":17.9,"y":18.6},{"m":"7-7-9-1","k":"p","x":19.6,"y":20.5},{"m":"7-7-9-1","k":"p","x":21,"y":24.8},{"m":"7-7-9-1","k":"p","x":22.6,"y":26.9},{"m":"7-7-9-1","k":"p","x":27,"y":28.1},

      {"m":"7-11-15-1","k":"r","t":"R² = 0.8817"},
      {"m":"7-11-15-1","k":"f","x":1.4,"y":4.1},{"m":"7-11-15-1","k":"f","x":27.8,"y":27.8},
      {"m":"7-11-15-1","k":"p","x":1.4,"y":2.4},{"m":"7-11-15-1","k":"p","x":6.1,"y":8},{"m":"7-11-15-1","k":"p","x":7.1,"y":8.9},{"m":"7-11-15-1","k":"p","x":8.2,"y":10.8},{"m":"7-11-15-1","k":"p","x":8.3,"y":10.5},{"m":"7-11-15-1","k":"p","x":10,"y":9.8},{"m":"7-11-15-1","k":"p","x":10.3,"y":11.8},{"m":"7-11-15-1","k":"p","x":10.6,"y":14.7},{"m":"7-11-15-1","k":"p","x":10.9,"y":10.6},{"m":"7-11-15-1","k":"p","x":11,"y":12.3},{"m":"7-11-15-1","k":"p","x":11.3,"y":13.4},{"m":"7-11-15-1","k":"p","x":11.8,"y":13},{"m":"7-11-15-1","k":"p","x":12.1,"y":12.4},{"m":"7-11-15-1","k":"p","x":12.7,"y":13.4},{"m":"7-11-15-1","k":"p","x":13.3,"y":14.6},{"m":"7-11-15-1","k":"p","x":13.6,"y":23.8},{"m":"7-11-15-1","k":"p","x":14.2,"y":16.4},{"m":"7-11-15-1","k":"p","x":14.4,"y":15.5},{"m":"7-11-15-1","k":"p","x":15,"y":15.9},{"m":"7-11-15-1","k":"p","x":15.8,"y":17.2},{"m":"7-11-15-1","k":"p","x":16.3,"y":17.4},{"m":"7-11-15-1","k":"p","x":17,"y":17.9},{"m":"7-11-15-1","k":"p","x":17.6,"y":18.8},{"m":"7-11-15-1","k":"p","x":18.5,"y":19.4},{"m":"7-11-15-1","k":"p","x":20.3,"y":21.3},{"m":"7-11-15-1","k":"p","x":22.6,"y":23},{"m":"7-11-15-1","k":"p","x":25,"y":24.4},{"m":"7-11-15-1","k":"p","x":27.8,"y":25.8}
    ]
  },
  "hconcat": [
    {
      "title": {"text": "Training part", "anchor": "start", "frame": "bounds", "offset": -12},
      "data": {"name": "train"},
      "facet": {
        "field": "m", "type": "nominal",
        "sort": ["7-4-6-1", "7-5-8-1", "7-7-7-1", "7-7-9-1", "7-11-15-1"],
        "header": {"title": null}
      },
      "columns": 1,
      "spacing": 16,
      "resolve": {"axis": {"x": "independent", "y": "independent"}},
      "spec": {
        "width": 279,
        "height": 139,
        "layer": [
          {
            "transform": [{"filter": "datum.k == 'p'"}],
            "mark": {"type": "circle", "size": 55, "strokeWidth": 1, "opacity": 0.85},
            "encoding": {
              "x": {"field": "x", "type": "quantitative", "scale": {"domain": [0, 30], "nice": false}, "axis": {"values": [0, 5, 10, 15, 20, 25, 30], "title": "Measured PPV (mm/s)", "titleFontWeight": "normal", "labelOverlap": false}},
              "y": {"field": "y", "type": "quantitative", "scale": {"domain": [0, 32], "nice": false}, "axis": {"values": [0, 4, 8, 12, 16, 20, 24, 28, 32], "title": "Predicted PPV (mm/s)", "titleFontWeight": "normal", "labelOverlap": false}},
              "fill": {"field": "m", "type": "nominal", "legend": null, "scale": {"domain": ["7-4-6-1", "7-5-8-1", "7-7-7-1", "7-7-9-1", "7-11-15-1"], "range": ["#b3e2ad", "#b4c7e7", "#d5c2f0", "#ffe08a", "#fad0c8"]}},
              "stroke": {"field": "m", "type": "nominal", "legend": null, "scale": {"domain": ["7-4-6-1", "7-5-8-1", "7-7-7-1", "7-7-9-1", "7-11-15-1"], "range": ["#38a845", "#2f5597", "#6a3fa0", "#c09000", "#ff0000"]}}
            }
          },
          {
            "transform": [{"filter": "datum.k == 'f'"}],
            "mark": {"type": "line", "color": "black", "strokeWidth": 2.5, "strokeDash": [3, 3.5]},
            "encoding": {
              "x": {"field": "x", "type": "quantitative", "axis": {"values": [0, 5, 10, 15, 20, 25, 30], "title": "Measured PPV (mm/s)", "titleFontWeight": "normal", "labelOverlap": false}},
              "y": {"field": "y", "type": "quantitative", "axis": {"values": [0, 4, 8, 12, 16, 20, 24, 28, 32], "title": "Predicted PPV (mm/s)", "titleFontWeight": "normal", "labelOverlap": false}}
            }
          },
          {
            "transform": [{"filter": "datum.k == 'r'"}],
            "mark": {"type": "rect", "fill": "white", "stroke": "#333333", "strokeWidth": 1},
            "encoding": {
              "x": {"datum": 0.45, "type": "quantitative", "axis": {"values": [0, 5, 10, 15, 20, 25, 30], "title": "Measured PPV (mm/s)", "titleFontWeight": "normal", "labelOverlap": false}},
              "x2": {"datum": 5.9},
              "y": {"datum": 28.1, "type": "quantitative", "axis": {"values": [0, 4, 8, 12, 16, 20, 24, 28, 32], "title": "Predicted PPV (mm/s)", "titleFontWeight": "normal", "labelOverlap": false}},
              "y2": {"datum": 31.1}
            }
          },
          {
            "transform": [{"filter": "datum.k == 'r'"}],
            "mark": {"type": "text", "color": "#e8141b", "fontWeight": "bold", "fontSize": 9.5},
            "encoding": {
              "x": {"datum": 3.17, "type": "quantitative", "axis": {"values": [0, 5, 10, 15, 20, 25, 30], "title": "Measured PPV (mm/s)", "titleFontWeight": "normal", "labelOverlap": false}},
              "y": {"datum": 29.55, "type": "quantitative", "axis": {"values": [0, 4, 8, 12, 16, 20, 24, 28, 32], "title": "Predicted PPV (mm/s)", "titleFontWeight": "normal", "labelOverlap": false}},
              "text": {"field": "t"}
            }
          }
        ]
      }
    },
    {
      "title": {"text": "Testing part", "anchor": "start", "frame": "bounds", "offset": -12},
      "data": {"name": "test"},
      "facet": {
        "field": "m", "type": "nominal",
        "sort": ["7-4-6-1", "7-5-8-1", "7-7-7-1", "7-7-9-1", "7-11-15-1"],
        "header": {"title": null}
      },
      "columns": 1,
      "spacing": 16,
      "resolve": {"axis": {"x": "independent", "y": "independent"}},
      "spec": {
        "width": 279,
        "height": 139,
        "layer": [
          {
            "transform": [{"filter": "datum.k == 'p'"}],
            "mark": {"type": "circle", "size": 55, "strokeWidth": 1, "opacity": 0.85},
            "encoding": {
              "x": {"field": "x", "type": "quantitative", "scale": {"domain": [0, 30], "nice": false}, "axis": {"values": [0, 5, 10, 15, 20, 25, 30], "title": "Measured PPV (mm/s)", "titleFontWeight": "normal", "labelOverlap": false}},
              "y": {"field": "y", "type": "quantitative", "scale": {"domain": [0, 32], "nice": false}, "axis": {"values": [0, 4, 8, 12, 16, 20, 24, 28, 32], "title": "Predicted PPV (mm/s)", "titleFontWeight": "normal", "labelOverlap": false}},
              "fill": {"field": "m", "type": "nominal", "legend": null, "scale": {"domain": ["7-4-6-1", "7-5-8-1", "7-7-7-1", "7-7-9-1", "7-11-15-1"], "range": ["#b3e2ad", "#b4c7e7", "#d5c2f0", "#ffe08a", "#f8bfb0"]}},
              "stroke": {"field": "m", "type": "nominal", "legend": null, "scale": {"domain": ["7-4-6-1", "7-5-8-1", "7-7-7-1", "7-7-9-1", "7-11-15-1"], "range": ["#38a845", "#2f5597", "#6a3fa0", "#c09000", "#ff0000"]}}
            }
          },
          {
            "transform": [{"filter": "datum.k == 'f'"}],
            "mark": {"type": "line", "color": "black", "strokeWidth": 2.5, "strokeDash": [3, 3.5]},
            "encoding": {
              "x": {"field": "x", "type": "quantitative", "axis": {"values": [0, 5, 10, 15, 20, 25, 30], "title": "Measured PPV (mm/s)", "titleFontWeight": "normal", "labelOverlap": false}},
              "y": {"field": "y", "type": "quantitative", "axis": {"values": [0, 4, 8, 12, 16, 20, 24, 28, 32], "title": "Predicted PPV (mm/s)", "titleFontWeight": "normal", "labelOverlap": false}}
            }
          },
          {
            "transform": [{"filter": "datum.k == 'r'"}],
            "mark": {"type": "rect", "fill": "white", "stroke": "#333333", "strokeWidth": 1},
            "encoding": {
              "x": {"datum": 0.45, "type": "quantitative", "axis": {"values": [0, 5, 10, 15, 20, 25, 30], "title": "Measured PPV (mm/s)", "titleFontWeight": "normal", "labelOverlap": false}},
              "x2": {"datum": 5.9},
              "y": {"datum": 28.1, "type": "quantitative", "axis": {"values": [0, 4, 8, 12, 16, 20, 24, 28, 32], "title": "Predicted PPV (mm/s)", "titleFontWeight": "normal", "labelOverlap": false}},
              "y2": {"datum": 31.1}
            }
          },
          {
            "transform": [{"filter": "datum.k == 'r'"}],
            "mark": {"type": "text", "color": "#e8141b", "fontWeight": "bold", "fontSize": 9.5},
            "encoding": {
              "x": {"datum": 3.17, "type": "quantitative", "axis": {"values": [0, 5, 10, 15, 20, 25, 30], "title": "Measured PPV (mm/s)", "titleFontWeight": "normal", "labelOverlap": false}},
              "y": {"datum": 29.55, "type": "quantitative", "axis": {"values": [0, 4, 8, 12, 16, 20, 24, 28, 32], "title": "Predicted PPV (mm/s)", "titleFontWeight": "normal", "labelOverlap": false}},
              "text": {"field": "t"}
            }
          }
        ]
      }
    }
  ],
  "config": {
    "font": "Liberation Serif",
    "view": {"stroke": "black", "strokeWidth": 1},
    "title": {"font": "Liberation Serif", "fontSize": 13.5, "fontWeight": "bold", "color": "#ff0000"},
    "header": {"labelFont": "Liberation Serif", "labelFontSize": 11.5, "labelColor": "black", "labelPadding": 8},
    "axis": {
      "grid": false,
      "domainColor": "black",
      "tickColor": "black",
      "tickSize": 3,
      "labelFont": "Liberation Serif",
      "labelFontSize": 10,
      "labelColor": "black",
      "labelPadding": 2,
      "labelOverlap": false,
      "titleFont": "Liberation Serif",
      "titleFontSize": 10.5,
      "titleFontWeight": "normal",
      "titleColor": "black",
      "titlePadding": 4
    },
    "axisY": {"labelOverlap": false, "titleFontWeight": "normal"},
    "axisX": {"labelOverlap": false, "titleFontWeight": "normal"}
  }
}
